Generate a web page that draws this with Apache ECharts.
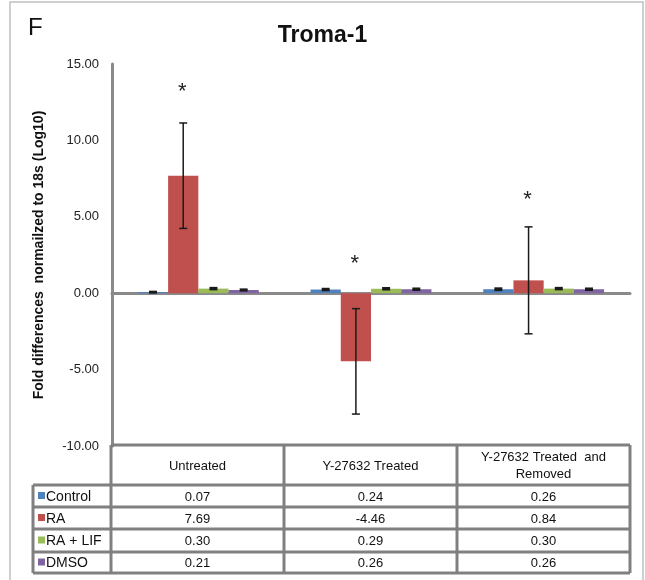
<!DOCTYPE html>
<html>
<head>
<meta charset="utf-8">
<script src="https://cdn.jsdelivr.net/npm/echarts@6/dist/echarts.min.js"></script>
<style>html,body{margin:0;padding:0;background:#fff;}#c{width:645px;height:580px;}</style>
</head>
<body>
<div id="c"></div>
<script>
// ---- data ----
var categories = ['Untreated', 'Y-27632 Treated', 'Y-27632 Treated  and\nRemoved'];
var seriesNames = ['Control', 'RA', 'RA + LIF', 'DMSO'];
var controlVals = [0.07, 0.24, 0.26];
var raVals = [7.69, -4.46, 0.84];
var raLifVals = [0.30, 0.29, 0.30];
var dmsoVals = [0.21, 0.26, 0.26];
var controlErr = [0.03, 0.05, 0.06];
var raErr = [3.45, 3.45, 3.5];
var raLifErr = [0.05, 0.05, 0.05];
var dmsoErr = [0.04, 0.05, 0.05];
var asteriskY = [13.4, 2.1, 6.3];   // height of the significance marks (value units)
var yTicks = [-10, -5, 0, 5, 10, 15];

var colors = ['#4F81BD', '#C0504D', '#9BBB59', '#8064A2'];
var allVals = [controlVals, raVals, raLifVals, dmsoVals];
var allErr = [controlErr, raErr, raLifErr, dmsoErr];

var GRID_L = 112, GRID_R = 15, GRID_T = 64, GRID_B = 134;
var gap = 0.30;
var FONT = 'Liberation Sans, Arial';

var chart = echarts.init(document.getElementById('c'), null, {renderer: 'canvas'});

var barSeries = seriesNames.map(function (n, i) {
  return {
    name: n, type: 'bar', data: allVals[i], barGap: '0%', barCategoryGap: '30%',
    itemStyle: {color: colors[i]}, z: 2
  };
});

var errData = [];
for (var s = 0; s < 4; s++) {
  for (var c = 0; c < 3; c++) errData.push([c, s, allVals[s][c], allErr[s][c]]);
}
var errSeries = {
  type: 'custom', data: errData, z: 5, silent: true,
  encode: {x: 0, y: 2},
  renderItem: function (params, api) {
    var cat = api.value(0), si = api.value(1), v = api.value(2), e = api.value(3);
    var band = api.size([1, 0])[0];
    var bw = band * (1 - gap) / 4;
    var cx = api.coord([cat, v])[0] + (si - 1.5) * bw;
    var top = api.coord([cat, v + e])[1];
    var bot = api.coord([cat, v - e])[1];
    var cap = 4;
    var st = {stroke: '#1a1a1a', lineWidth: 1.5};
    if (e < 0.2) {
      return {type: 'rect', shape: {x: cx - cap, y: top - 1, width: cap * 2, height: Math.max(3, bot - top + 2)}, style: {fill: '#1a1a1a'}};
    }
    return {type: 'group', children: [
      {type: 'line', shape: {x1: cx, y1: top, x2: cx, y2: bot}, style: st},
      {type: 'line', shape: {x1: cx - cap, y1: top, x2: cx + cap, y2: top}, style: st},
      {type: 'line', shape: {x1: cx - cap, y1: bot, x2: cx + cap, y2: bot}, style: st}
    ]};
  }
};

var starSeries = {
  type: 'custom', data: asteriskY.map(function (y, i) { return [i, y]; }), z: 6, silent: true,
  encode: {x: 0, y: 1},
  renderItem: function (params, api) {
    var band = api.size([1, 0])[0];
    var bw = band * (1 - gap) / 4;
    var p = api.coord([api.value(0), api.value(1)]);
    return {type: 'text', x: p[0] - 0.5 * bw - 1, y: p[1] + 3, style: {text: '*', fontSize: 22, fontFamily: FONT, fill: '#222', align: 'center', verticalAlign: 'middle'}};
  }
};

// ---- table graphics ----
var colX = [33, 111, 284, 457, 630];
var rowY = [445, 485, 507, 529, 552, 573];
var lineCol = '#808080';
var g = [];
g.push({type: 'rect', shape: {x: 10, y: 2, width: 633, height: 620}, style: {fill: 'none', stroke: '#c0c0c0', lineWidth: 1.5}, z: 0});
g.push({type: 'text', x: 28, y: 16, style: {text: 'F', fontSize: 24, fontFamily: FONT, fill: '#111'}});
function hline(x1, x2, y) { g.push({type: 'line', shape: {x1: x1, y1: y, x2: x2, y2: y}, style: {stroke: lineCol, lineWidth: 3}, z: 10}); }
function vline(x, y1, y2) { g.push({type: 'line', shape: {x1: x, y1: y1, x2: x, y2: y2}, style: {stroke: lineCol, lineWidth: 3}, z: 10}); }
hline(colX[1], colX[4], rowY[0]);
for (var r = 1; r < rowY.length; r++) hline(colX[0], colX[4], rowY[r]);
vline(colX[0], rowY[1], rowY[5]);
for (var k = 1; k < colX.length; k++) vline(colX[k], rowY[0], rowY[5]);
categories.forEach(function (cat, i) {
  g.push({type: 'text', x: (colX[i + 1] + colX[i + 2]) / 2, y: (rowY[0] + rowY[1]) / 2 + 1, style: {text: cat, fontSize: 13, lineHeight: 17, fontFamily: FONT, fill: '#111', align: 'center', verticalAlign: 'middle'}, z: 11});
});
seriesNames.forEach(function (n, s) {
  var yc = (rowY[s + 1] + rowY[s + 2]) / 2;
  g.push({type: 'rect', shape: {x: 38, y: yc - 4, width: 7, height: 7}, style: {fill: colors[s]}, z: 11});
  g.push({type: 'text', x: 46, y: yc + 1, style: {text: n, fontSize: 14, fontFamily: FONT, fill: '#111', align: 'left', verticalAlign: 'middle'}, z: 11});
  for (var c = 0; c < 3; c++) {
    g.push({type: 'text', x: (colX[c + 1] + colX[c + 2]) / 2, y: yc + 1, style: {text: allVals[s][c].toFixed(2), fontSize: 13, fontFamily: FONT, fill: '#111', align: 'center', verticalAlign: 'middle'}, z: 11});
  }
});

chart.setOption({
  animation: false,
  backgroundColor: '#fff',
  title: {text: 'Troma-1', left: 'center', top: 19, textStyle: {fontSize: 23, fontWeight: 'bold', fontFamily: FONT, color: '#111'}},
  grid: {left: GRID_L, right: GRID_R, top: GRID_T, bottom: GRID_B},
  xAxis: {
    type: 'category', data: categories,
    axisLine: {onZero: true, lineStyle: {color: '#8a8a8a', width: 3}},
    axisTick: {show: false}, axisLabel: {show: false}, splitLine: {show: false}
  },
  yAxis: {
    type: 'value', min: yTicks[0], max: yTicks[yTicks.length - 1], interval: 5,
    name: 'Fold differences  normailzed to 18s (Log10)',
    nameLocation: 'middle', nameRotate: 90, nameGap: 66,
    nameTextStyle: {fontSize: 14, fontWeight: 'bold', fontFamily: FONT, color: '#111'},
    axisLine: {show: true, lineStyle: {color: '#8a8a8a', width: 3}},
    axisTick: {show: false}, splitLine: {show: false},
    axisLabel: {margin: 13, fontSize: 13, fontFamily: FONT, color: '#222', formatter: function (v) { return v.toFixed(2); }}
  },
  series: barSeries.concat([errSeries, starSeries]),
  graphic: g
});
</script>
</body>
</html>
